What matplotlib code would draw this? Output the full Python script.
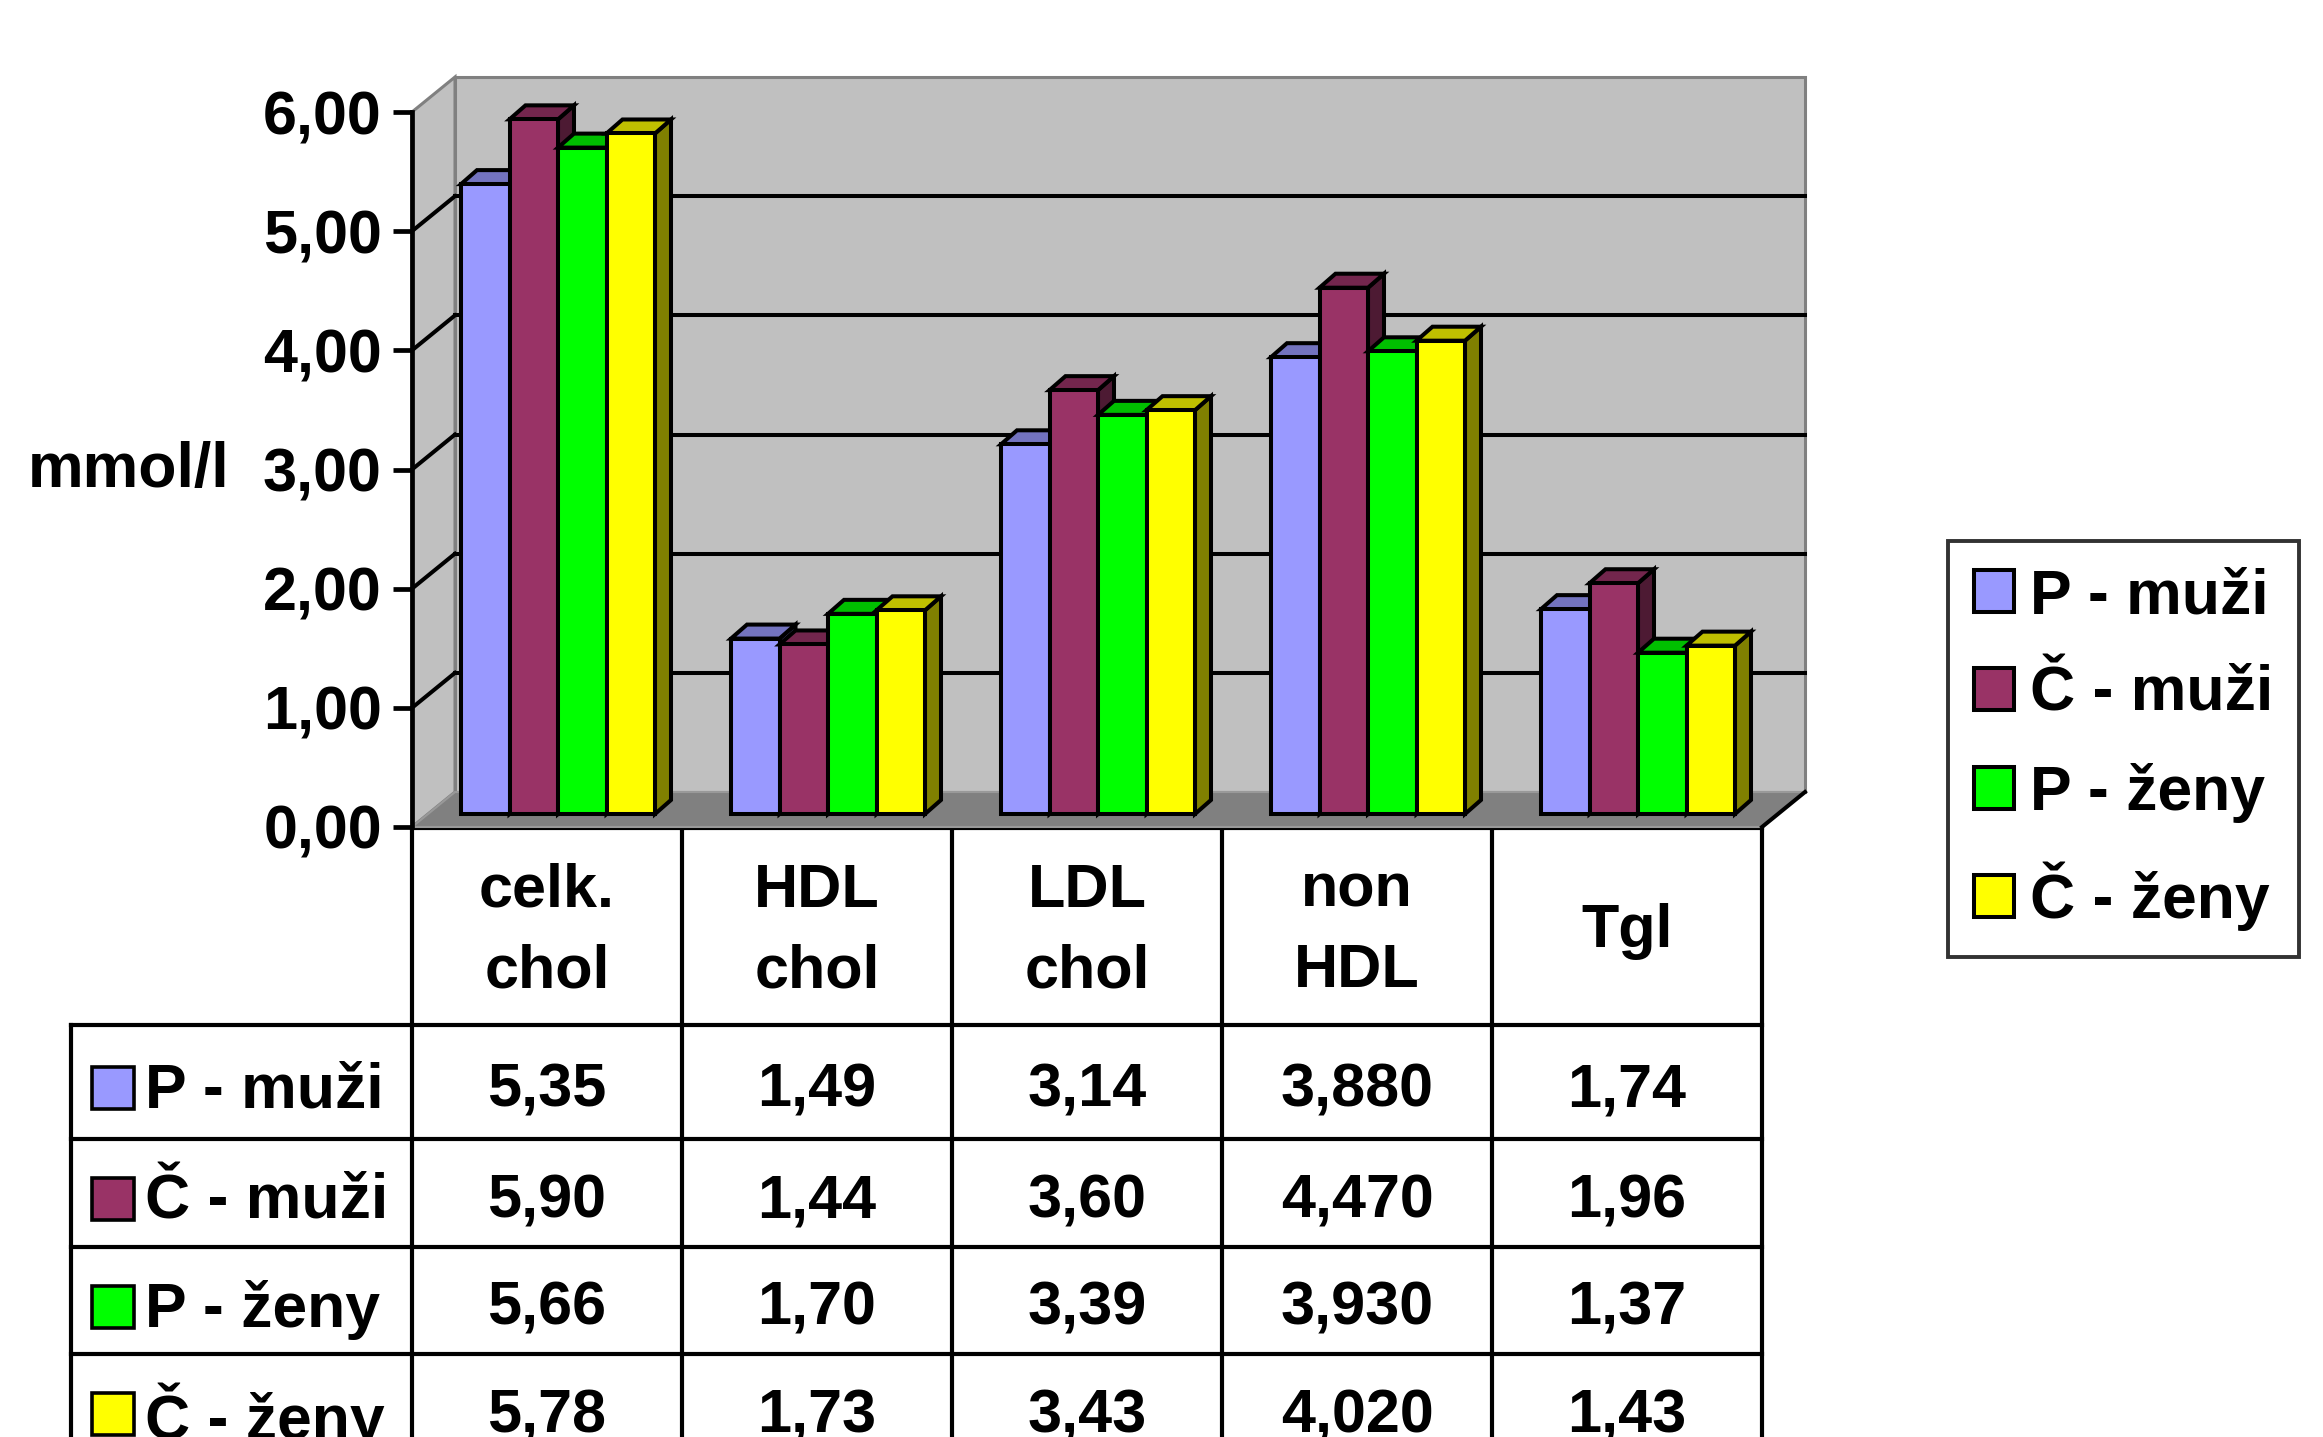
import matplotlib
matplotlib.use("Agg")
import matplotlib.pyplot as plt
from matplotlib.patches import Polygon, Rectangle
from matplotlib.transforms import blended_transform_factory

# ---------------- data ----------------
categories = ["celk.\nchol", "HDL\nchol", "LDL\nchol", "non\nHDL", "Tgl"]
series = ["P - muži", "Č - muži", "P - ženy", "Č - ženy"]
p_muzi = [5.35, 1.49, 3.14, 3.88, 1.74]
c_muzi = [5.90, 1.44, 3.60, 4.47, 1.96]
p_zeny = [5.66, 1.70, 3.39, 3.93, 1.37]
c_zeny = [5.78, 1.73, 3.43, 4.02, 1.43]
table_decimals = [2, 2, 2, 3, 2]
y_ticks = [0, 1, 2, 3, 4, 5, 6]
y_label = "mmol/l"

values = [p_muzi, c_muzi, p_zeny, c_zeny]
front_colors = ["#9999FF", "#993366", "#00FF00", "#FFFF00"]
top_colors = ["#7373BF", "#73264D", "#00BF00", "#BFBF00"]
side_colors = ["#4D4D80", "#4D1A33", "#008000", "#808000"]

W, H, DPI = 2323, 1437, 100
plt.rcParams['font.family'] = ['Liberation Sans', 'DejaVu Sans']
plt.rcParams['font.weight'] = 'bold'
fig = plt.figure(figsize=(W / DPI, H / DPI), dpi=DPI)
fig.patch.set_facecolor("white")

def fx(px):
    return px / W

def fy(py):
    return 1 - py / H

FS = 44

# overlay in pixel coordinates (for table grid & text)
ov = fig.add_axes([0, 0, 1, 1])
ov.set_xlim(0, W)
ov.set_ylim(H, 0)
ov.axis("off")
ov.patch.set_alpha(0)
ov.set_zorder(0)

# main chart axes
X0, X1, Y0, Y1 = 412, 1762, 827, 112
ax = fig.add_axes([fx(X0), fy(Y0), (X1 - X0) / W, (Y0 - Y1) / H])
ax.set_zorder(1)
ax.patch.set_alpha(0)
ncat = len(categories)
ymax = max(y_ticks)
ax.set_xlim(0, ncat)
ax.set_ylim(0, ymax)

# depth vector (data units)
DX, DY = 43 / 270, 35 / 119.17
wall_c = "#C0C0C0"
floor_c = "#808080"
edge_gray = "#808080"
GLW = 2.9

# back wall
ax.add_patch(Polygon([(DX, DY), (ncat + DX, DY), (ncat + DX, ymax + DY), (DX, ymax + DY)],
                     closed=True, fc=wall_c, ec=edge_gray, lw=2.2, zorder=1, clip_on=False))
# left wall
ax.add_patch(Polygon([(0, 0), (DX, DY), (DX, ymax + DY), (0, ymax)],
                     closed=True, fc=wall_c, ec=edge_gray, lw=2.2, zorder=1, clip_on=False))
# floor
ax.add_patch(Polygon([(0, 0), (ncat, 0), (ncat + DX, DY), (DX, DY)],
                     closed=True, fc=floor_c, ec="#999999", lw=1.5, zorder=2, clip_on=False))
ax.plot([ncat, ncat + DX], [0, DY], color="black", lw=GLW, zorder=3, clip_on=False,
        solid_capstyle="projecting")

# gridlines
for v in y_ticks[1:-1]:
    ax.plot([DX, ncat + DX], [v + DY, v + DY], color="black", lw=GLW, zorder=2, clip_on=False)
    ax.plot([0, DX], [v, v + DY], color="black", lw=GLW, zorder=2, clip_on=False)

# bars (pseudo 3D)
GAP = 49 / 270
BW = 48.5 / 270
BASE = 13 / 119.17          # front face of bars sits a little behind the floor edge
SCALE = 0.988                # slight perspective shrink of the bars
BDX, BDY = 16 / 270, 14 / 119.17
LW = 2.9
handles = []
for k, vals in enumerate(values):
    xs = [i + GAP + k * BW for i in range(ncat)]
    hs = [v * SCALE for v in vals]
    bars = ax.bar(xs, hs, width=BW, bottom=BASE, align="edge",
                  color=front_colors[k], edgecolor="black", linewidth=LW,
                  zorder=10 + 3 * k + 2, clip_on=False)
    handles.append(bars[0])
    for x0, hgt in zip(xs, hs):
        x1 = x0 + BW
        yb = BASE
        yt = BASE + hgt
        ax.add_patch(Polygon([(x1, yb), (x1 + BDX, yb + BDY), (x1 + BDX, yt + BDY), (x1, yt)],
                             closed=True, fc=side_colors[k], ec="black", lw=LW,
                             zorder=10 + 3 * k, clip_on=False, joinstyle="miter"))
        ax.add_patch(Polygon([(x0, yt), (x1, yt), (x1 + BDX, yt + BDY), (x0 + BDX, yt + BDY)],
                             closed=True, fc=top_colors[k], ec="black", lw=LW,
                             zorder=10 + 3 * k + 1, clip_on=False, joinstyle="miter"))

# axes styling
for s in ["top", "right", "bottom"]:
    ax.spines[s].set_visible(False)
ax.spines["left"].set_linewidth(3.4)
ax.spines["left"].set_zorder(5)
ax.set_xticks([])
ax.set_yticks(y_ticks)
ax.set_yticklabels([f"{v:.2f}".replace(".", ",") for v in y_ticks],
                   fontsize=FS, fontweight="bold")
ax.tick_params(axis="y", length=13.7, width=3.4, pad=8, direction="out")

fig.text(fx(229), fy(470), y_label, ha="right", va="center", fontsize=45, fontweight="bold")

# ---------------- data table ----------------
tr = blended_transform_factory(ax.transData, ov.transData)
TOP = 828
HEAD_BOT = 1025
row_edges = [1025, 1139, 1247, 1354, 1462]
LEFT = 71
TL = 3.0
# top line (floor front edge)
ov.plot([0, ncat], [TOP, TOP], color="black", lw=TL, transform=tr, clip_on=False, zorder=3,
        solid_capstyle="projecting")
# vertical column lines
for i in range(ncat + 1):
    ov.plot([i, i], [TOP, H + 20], color="black", lw=TL, transform=tr, clip_on=False)
ov.plot([LEFT, LEFT], [HEAD_BOT, H + 20], color="black", lw=TL, clip_on=False)
# horizontal row lines
x_right = ax.transData.transform((ncat, 0))[0]
for y in row_edges:
    ov.plot([LEFT, x_right], [y, y], color="black", lw=TL, clip_on=False,
            solid_capstyle="projecting")

# header texts
for i, cat in enumerate(categories):
    ov.text(i + 0.5, (TOP + HEAD_BOT) / 2 + 5, cat, transform=tr, ha="center", va="center",
            fontsize=FS, fontweight="bold", linespacing=1.53, multialignment="center")

# row labels and values
for r, (name, vals) in enumerate(zip(series, values)):
    yc = (row_edges[r] + row_edges[r + 1]) / 2 + 9
    ov.add_patch(Rectangle((92, yc - 24), 42, 42, fc=front_colors[r], ec="black", lw=2.6))
    ov.text(145, yc, name, ha="left", va="center", fontsize=45, fontweight="bold")
    for i, v in enumerate(vals):
        s = f"{v:.{table_decimals[i]}f}".replace(".", ",")
        ov.text(i + 0.5, yc, s, transform=tr, ha="center", va="center",
                fontsize=FS, fontweight="bold")

# ---------------- legend ----------------
leg = fig.legend(handles, series, loc="upper left",
                 bbox_to_anchor=(fx(1948), fy(541)), bbox_transform=fig.transFigure,
                 frameon=True, fancybox=False, edgecolor="black",
                 prop=dict(weight="bold", size=45),
                 handlelength=0.64, handleheight=0.66, handletextpad=0.25,
                 labelspacing=0.62, borderpad=0.42, borderaxespad=0)
leg.get_frame().set_linewidth(2.8)

fig.savefig("out.png", dpi=DPI, facecolor="white")
